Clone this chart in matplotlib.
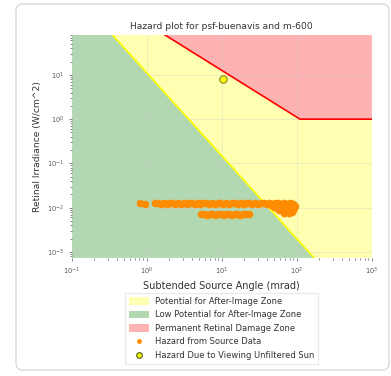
"""
Hazard plot (retinal irradiance vs subtended source angle) for psf-buenavis and m-600.
"""

import matplotlib

matplotlib.use("Agg")

import matplotlib.pyplot as plt
from matplotlib.lines import Line2D
from matplotlib.patches import FancyBboxPatch, Patch

# axis limits
X_LIMITS = [0.1, 1000.0]
Y_LIMITS = [7.3e-4, 80.0]

# zone boundaries (mrad, W/cm^2)
AFTERIMAGE_X = [0.35, 170.0]
AFTERIMAGE_Y = [80.0, 7.3e-4]
BURN_X = [1.75, 110.0, 1000.0]
BURN_Y = [80.0, 1.0, 1.0]

# unfiltered sun
SUN_X = [10.4]
SUN_Y = [8.0]

# hazard points from source data
HAZARD_X = [
    0.82, 0.95, 1.30, 1.42, 1.55, 1.70, 1.85, 2.0, 2.2, 2.4, 2.6, 2.85, 3.1,
    3.4, 3.7, 4.0, 4.4, 4.8, 5.2, 5.7, 6.2, 6.8, 7.4, 8.1, 8.8, 9.6, 10.5,
    11.5, 12.5, 13.7, 15.0, 16.4, 17.9, 19.5, 21.3, 23.3, 25.4, 27.8, 30.3,
    33.1, 36.2, 39.5, 43.2, 47.2, 51.5, 56.3, 61.5, 67.2, 73.4, 80.2, 86.0,
    # rounded end of the cluster
    45.0, 50.0, 55.0, 60.0, 65.0, 70.0, 76.0, 82.0, 88.0, 92.0, 94.0, 90.0,
    72.0, 80.0, 65.0, 85.0, 58.0, 68.0, 78.0, 86.0,
    # lower band
    5.3, 5.8, 6.3, 6.9, 7.5, 8.2, 8.9, 9.7, 10.6, 11.5, 12.5, 13.6, 14.8,
    16.1, 17.5, 19.0, 20.8, 23.0,
]
HAZARD_Y = [
    0.0130, 0.0122, 0.0125, 0.0128, 0.0124, 0.0127, 0.0123, 0.0128, 0.0125,
    0.0122, 0.0127, 0.0124, 0.0128, 0.0123, 0.0126, 0.0129, 0.0124, 0.0127,
    0.0123, 0.0128, 0.0125, 0.0122, 0.0127, 0.0124, 0.0128, 0.0125, 0.0123,
    0.0127, 0.0124, 0.0128, 0.0125, 0.0122, 0.0127, 0.0124, 0.0128, 0.0125,
    0.0123, 0.0127, 0.0124, 0.0128, 0.0125, 0.0122, 0.0127, 0.0124, 0.0128,
    0.0125, 0.0123, 0.0127, 0.0124, 0.0126, 0.0122,
    0.0112, 0.0106, 0.0100, 0.0094, 0.0088, 0.0083, 0.0079, 0.0080, 0.0087,
    0.0097, 0.0109, 0.0119, 0.0108, 0.0098, 0.0114, 0.0118, 0.0088, 0.0076,
    0.0074, 0.0078,
    0.0071, 0.0072, 0.0070, 0.0072, 0.0071, 0.0070, 0.0072, 0.0071, 0.0070,
    0.0072, 0.0071, 0.0070, 0.0072, 0.0071, 0.0070, 0.0072, 0.0071, 0.0072,
]

TITLE = "Hazard plot for psf-buenavis and m-600"


def main():
    fig = plt.figure(figsize=(3.91, 3.76), dpi=100, facecolor="white")

    # card outline around the whole figure
    card = FancyBboxPatch(
        (16 / 391, 6 / 376), 373 / 391, 366 / 376,
        boxstyle="round,pad=0,rounding_size=0.018",
        transform=fig.transFigure, facecolor="none",
        edgecolor="#d9d9d9", linewidth=1.0, zorder=-1,
    )
    fig.patches.append(card)

    ax = fig.add_axes([0.1834, 0.314, 0.7677, 0.593])
    ax.set_xscale("log")
    ax.set_yscale("log")
    x0, x1 = X_LIMITS
    y0, y1 = Y_LIMITS

    # zones
    green_x = [x0, x0] + AFTERIMAGE_X
    green_y = [y0, y1] + AFTERIMAGE_Y
    yellow_x = AFTERIMAGE_X + [x1, x1] + BURN_X[::-1][1:]
    yellow_y = AFTERIMAGE_Y + [y0, BURN_Y[-1]] + BURN_Y[::-1][1:]
    red_x = BURN_X + [x1]
    red_y = BURN_Y + [y1]
    ax.fill(yellow_x, yellow_y, color="yellow", alpha=0.3, lw=0)
    ax.fill(green_x, green_y, color="green", alpha=0.3, lw=0)
    ax.fill(red_x, red_y, color="red", alpha=0.3, lw=0)

    ax.plot(AFTERIMAGE_X, AFTERIMAGE_Y, color="yellow", linewidth=1.2)
    ax.plot(BURN_X, BURN_Y, color="red", linewidth=1.2)

    ax.plot(HAZARD_X, HAZARD_Y, "o", color="darkorange", markersize=5.5,
            markeredgewidth=0, linestyle="none")
    ax.plot(SUN_X, SUN_Y, "o", markerfacecolor="yellow",
            markeredgecolor="#9a9a3a", markeredgewidth=1.0, markersize=5.3)

    ax.set_xlim(x0, x1)
    ax.set_ylim(y0, y1)
    ax.grid(True, which="major", color="#cccccc", alpha=0.4, linewidth=0.6)
    for spine in ax.spines.values():
        spine.set_visible(False)
    ax.tick_params(axis="both", which="both", labelsize=4.8, colors="#555555",
                   length=2, width=0.5)
    ax.tick_params(axis="both", which="minor", length=1.2)

    ax.set_title(TITLE, fontsize=6.6, color="#333333", pad=4)
    ax.set_xlabel("Subtended Source Angle (mrad)", fontsize=7, color="#333333", labelpad=3)
    ax.set_ylabel("Retinal Irradiance (W/cm^2)", fontsize=6.6, color="#333333", labelpad=4)

    handles = [
        Patch(facecolor="yellow", alpha=0.3, edgecolor="none"),
        Patch(facecolor="green", alpha=0.3, edgecolor="none"),
        Patch(facecolor="red", alpha=0.3, edgecolor="none"),
        Line2D([], [], marker="o", linestyle="none", color="darkorange",
               markersize=3.5, markeredgewidth=0),
        Line2D([], [], marker="o", linestyle="none", markerfacecolor="yellow",
               markeredgecolor="#6b7a2a", markersize=4, markeredgewidth=1.0),
    ]
    labels = [
        "Potential for After-Image Zone",
        "Low Potential for After-Image Zone",
        "Permanent Retinal Damage Zone",
        "Hazard from Source Data",
        "Hazard Due to Viewing Unfiltered Sun",
    ]
    legend = fig.legend(handles, labels, loc="upper center",
                        bbox_to_anchor=(0.567, 0.233), fontsize=6.0,
                        frameon=True, fancybox=False, edgecolor="#e6e6e6",
                        handlelength=2.4, handleheight=1.0, handletextpad=0.7,
                        labelspacing=0.55, borderpad=0.5)
    for text in legend.get_texts():
        text.set_color("#333333")

    fig.savefig("out.png", dpi=100, facecolor="white")
    plt.close(fig)


if __name__ == "__main__":
    main()
